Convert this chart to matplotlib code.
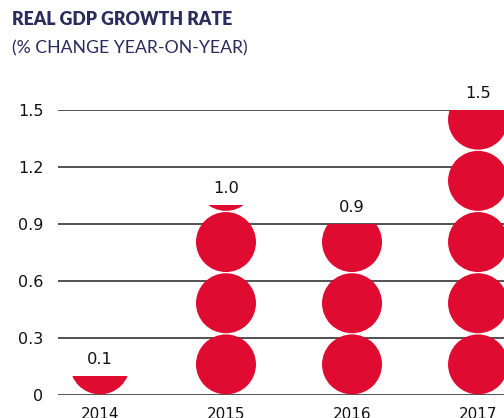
import matplotlib
matplotlib.use("Agg")
import matplotlib.pyplot as plt
from matplotlib.patches import Ellipse, Rectangle

years = ["2014", "2015", "2016", "2017"]
growth = [0.1, 1.0, 0.9, 1.5]
value_labels = ["0.1", "1.0", "0.9", "1.5"]
y_ticks = [0, 0.3, 0.6, 0.9, 1.2, 1.5]
y_tick_labels = ["0", "0.3", "0.6", "0.9", "1.2", "1.5"]

RED = "#e00b30"
NAVY = "#2a2c5c"
NUM_FONT = ["DejaVu Sans"]
HEAD_FONT = ["Lato", "DejaVu Sans"]

W, H, DPI = 504, 418, 100
fig = plt.figure(figsize=(W / DPI, H / DPI), dpi=DPI)

ax_left, ax_right = 58, 504
ax_bottom, ax_top = 395, 110
ax = fig.add_axes([ax_left / W, (H - ax_bottom) / H,
                   (ax_right - ax_left) / W, (ax_bottom - ax_top) / H])

x_lo, x_hi = -0.333, 3.206
ax.set_xlim(x_lo, x_hi)
ax.set_ylim(0, 1.5)

# pixels per data unit, so that the pictogram circles stay round
px_x = (ax_right - ax_left) / (x_hi - x_lo)
px_y = (ax_bottom - ax_top) / 1.5

diam_px = 60
pitch = 0.322
dia_y = diam_px / px_y
dia_x = diam_px / px_x

for i, v in enumerate(growth):
    clip = Rectangle((i - 1, 0), 2, v, transform=ax.transData)
    k = 0
    while k * pitch < v:
        cy = k * pitch + pitch / 2
        e = Ellipse((i, cy), dia_x, dia_y, facecolor=RED, edgecolor="none",
                    zorder=3)
        ax.add_patch(e)
        e.set_clip_path(clip)
        k += 1
    ax.annotate(value_labels[i], (i, v), xytext=(0, 8.3), textcoords="offset points",
                ha="center", va="baseline", fontsize=11.7, family=NUM_FONT,
                color="#111111", zorder=4)

ax.set_yticks(y_ticks)
ax.set_yticklabels(y_tick_labels, family=NUM_FONT, fontsize=11.5, color="#111111")
ax.set_xticks(range(len(years)))
ax.set_xticklabels(years, family=NUM_FONT, fontsize=11, color="#111111")
ax.tick_params(axis="y", length=0, pad=10.5)
ax.tick_params(axis="x", length=0, pad=8.5)
ax.grid(axis="y", color="#222222", linewidth=1.1, zorder=1)
ax.set_axisbelow(True)
for s in ax.spines.values():
    s.set_visible(False)

fig.text(12 / W, 1 - 19.5 / H, "REAL GDP GROWTH RATE", family=HEAD_FONT,
         fontweight="heavy", fontsize=12.7, color=NAVY, ha="left", va="center")
fig.text(12 / W, 1 - 48 / H, "(% CHANGE YEAR-ON-YEAR)", family=HEAD_FONT,
         fontsize=12.7, color=NAVY, ha="left", va="center")

fig.savefig("out.png", dpi=DPI)
